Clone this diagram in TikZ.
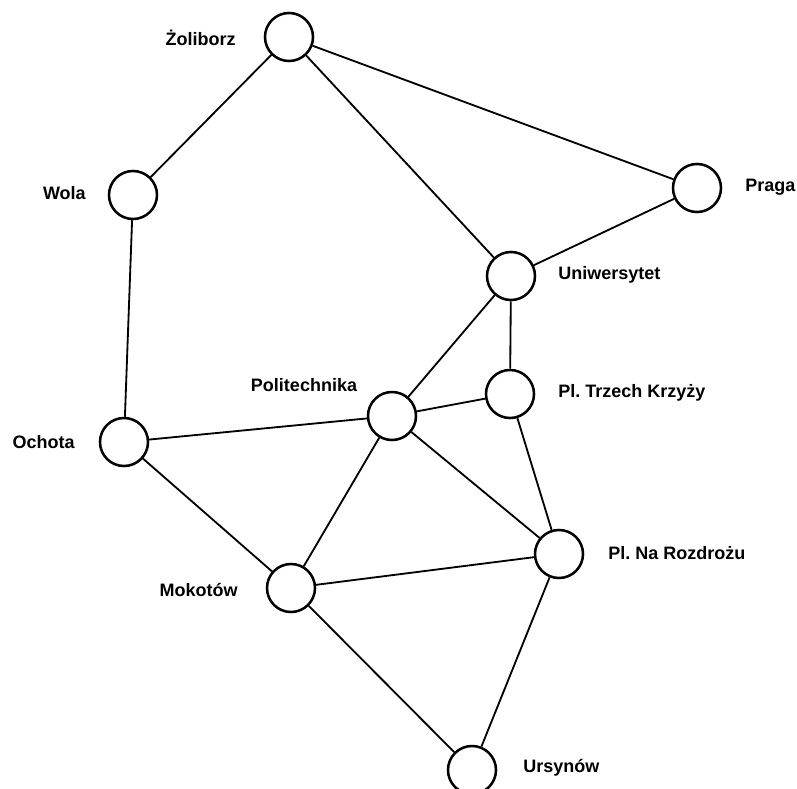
\documentclass[tikz,border=0pt]{standalone}
\usepackage{fontspec}
\setmainfont{Liberation Sans}
\usetikzlibrary{positioning}

\begin{document}
\begin{tikzpicture}[x=0.025cm,y=-0.025cm,
    station/.style={circle,draw,line width=1.8pt,minimum size=1.2cm,inner sep=0pt},
    lbl/.style={font=\bfseries\fontsize{12.8}{14}\selectfont,inner sep=0pt},
    link/.style={line width=1.3pt}]
    \useasboundingbox (0,0) rectangle (797,789);
    % Stations
    \node[station] (zol) at (289,37) {};
    \node[station] (wol) at (133,195) {};
    \node[station] (pra) at (697,188) {};
    \node[station] (uni) at (511,276) {};
    \node[station] (tkr) at (510,394) {};
    \node[station] (pol) at (392,416) {};
    \node[station] (och) at (124,442) {};
    \node[station] (nar) at (559,554) {};
    \node[station] (mok) at (291,588) {};
    \node[station] (urs) at (472,770) {};

    % Names
    \node[lbl,anchor=east] (zoltxt) at (236,38) {Żoliborz};
    \node[lbl,anchor=east] (woltxt) at (86,193) {Wola};
    \node[lbl,anchor=west] (pratxt) at (745,187) {Praga};
    \node[lbl,anchor=west] (unitxt) at (558,275) {Uniwersytet};
    \node[lbl,anchor=west] (tkrtxt) at (558,393) {Pl.\ Trzech Krzyży};
    \node[lbl] (poltxt) at (304,385) {Politechnika};
    \node[lbl,anchor=east] (ochtxt) at (75,442) {Ochota};
    \node[lbl,anchor=west] (nartxt) at (608,553) {Pl.\ Na Rozdrożu};
    \node[lbl,anchor=east] (moktxt) at (238,590) {Mokotów};
    \node[lbl,anchor=west] (urstxt) at (523,768) {Ursynów};

    % Links
    \draw[link] (zol) -- (wol);
    \draw[link] (zol) -- (pra);
    \draw[link] (zol) -- (uni);
    \draw[link] (pra) -- (uni);
    \draw[link] (wol) -- (och);
    \draw[link] (uni) -- (tkr);
    \draw[link] (uni) -- (pol);
    \draw[link] (pol) -- (tkr);
    \draw[link] (och) -- (pol);
    \draw[link] (och) -- (mok);
    \draw[link] (pol) -- (mok);
    \draw[link] (pol) -- (nar);
    \draw[link] (tkr) -- (nar);
    \draw[link] (mok) -- (nar);
    \draw[link] (mok) -- (urs);
    \draw[link] (nar) -- (urs);
\end{tikzpicture}
\end{document}
